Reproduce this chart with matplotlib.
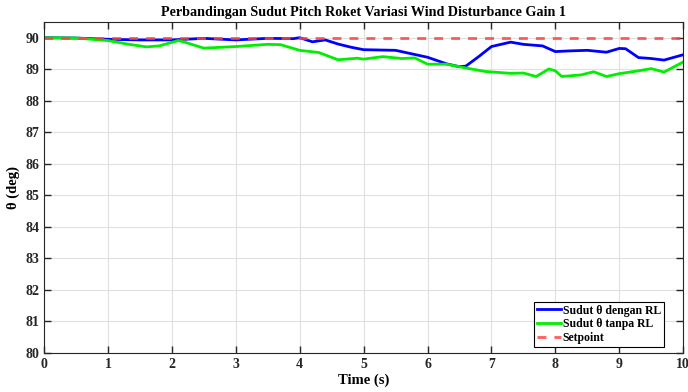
import matplotlib
matplotlib.use("Agg")
import matplotlib.pyplot as plt
import numpy as np

plt.rcParams['font.family'] = ['Liberation Serif', 'DejaVu Serif']
plt.rcParams['font.weight'] = 'bold'

# sudut pitch dengan RL
t_rl = [0, 0.5, 1, 1.5, 2, 2.5, 3, 3.5, 3.9, 4.0, 4.2, 4.4, 4.6, 4.8, 5, 5.5,
        6, 6.3, 6.5, 6.6, 6.8, 7, 7.3, 7.5, 7.8, 8, 8.2, 8.5, 8.8, 9, 9.1,
        9.3, 9.5, 9.7, 10]
th_rl = [90, 89.99, 89.95, 89.93, 89.93, 89.98, 89.93, 89.98, 89.97, 90.0,
         89.87, 89.93, 89.8, 89.7, 89.62, 89.6, 89.38, 89.17, 89.08, 89.1,
         89.4, 89.72, 89.86, 89.79, 89.74, 89.56, 89.58, 89.6, 89.54, 89.66,
         89.65, 89.37, 89.34, 89.29, 89.46]

# sudut pitch tanpa RL
t_no = [0, 0.5, 1, 1.3, 1.6, 1.8, 2.1, 2.2, 2.5, 3, 3.5, 3.7, 4, 4.3, 4.6,
        4.9, 5, 5.3, 5.6, 5.8, 6, 6.3, 6.6, 6.9, 7.3, 7.5, 7.7, 7.9, 8, 8.1,
        8.4, 8.6, 8.8, 9, 9.3, 9.5, 9.7, 10]
th_no = [90, 89.99, 89.91, 89.8, 89.71, 89.74, 89.91, 89.86, 89.67, 89.72,
         89.79, 89.78, 89.6, 89.53, 89.3, 89.35, 89.32, 89.4, 89.34, 89.36,
         89.16, 89.16, 89.04, 88.93, 88.87, 88.88, 88.77, 89.01, 88.95, 88.77,
         88.82, 88.92, 88.77, 88.86, 88.95, 89.02, 88.91, 89.23]

setpoint = 90

fig = plt.figure(figsize=(6.88, 3.92), dpi=100)
ax = fig.add_axes([0.064, 0.0995, 0.929, 0.8445])

ax.plot(t_rl, th_rl, color='#0000ff', lw=2, label='Sudut θ dengan RL')
ax.plot(t_no, th_no, color='#00ee00', lw=2, label='Sudut θ tanpa RL')
ax.plot([0, 10], [setpoint, setpoint], '--', color='#ff4040', lw=2,
        alpha=0.85, dashes=(3.2, 2.9), label='Setpoint')

ax.set_xlim(0, 10)
ax.set_ylim(80, 90.5)
ax.set_xticks(range(0, 11))
ax.set_yticks(range(80, 91))
ax.grid(True, color='#e0e0e0', lw=0.8)
ax.set_axisbelow(True)
ax.tick_params(direction='in', top=True, right=True, length=5, width=1,
               labelsize=10, colors='#262626')
for s in ax.spines.values():
    s.set_color('#262626')
    s.set_linewidth(0.8)

ax.set_title('Perbandingan Sudut Pitch Roket Variasi Wind Disturbance Gain 1',
             fontsize=10.2, fontweight='bold', pad=4)
ax.set_xlabel('Time (s)', fontsize=10.5, fontweight='bold', labelpad=2)
ax.set_ylabel('θ (deg)', fontsize=10.5, fontweight='bold', labelpad=4)

leg = ax.legend(loc='lower right', fontsize=8.5, fancybox=False, framealpha=1,
                edgecolor='black', handlelength=2.0, handletextpad=0.15,
                borderpad=0.25, labelspacing=0.15, borderaxespad=0,
                bbox_to_anchor=(664 / 688, 45 / 392),
                bbox_transform=fig.transFigure)
leg.get_frame().set_linewidth(0.8)

fig.savefig('out.png', dpi=100)
